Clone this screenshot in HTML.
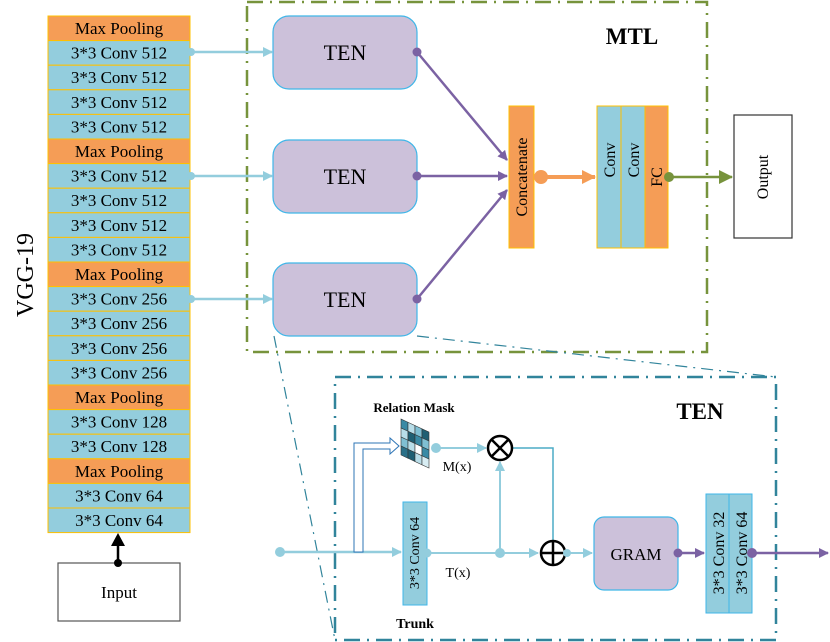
<!DOCTYPE html>
<html><head><meta charset="utf-8"><style>
html,body{margin:0;padding:0;background:#fff;}
svg{display:block;}
text{font-family:"Liberation Serif",serif;}
</style></head><body>
<svg width="830" height="642" viewBox="0 0 830 642" xmlns="http://www.w3.org/2000/svg">
<defs>
<marker id="ab" markerWidth="10" markerHeight="10" refX="9" refY="5" orient="auto" markerUnits="userSpaceOnUse"><path d="M0,0 L10,5 L0,10 z" fill="#93cddd"/></marker>
<marker id="ap" markerWidth="10" markerHeight="10" refX="9" refY="5" orient="auto" markerUnits="userSpaceOnUse"><path d="M0,0 L10,5 L0,10 z" fill="#7b62a3"/></marker>
<marker id="ao" markerWidth="14" markerHeight="14" refX="13" refY="7" orient="auto" markerUnits="userSpaceOnUse"><path d="M0,0 L14,7 L0,14 z" fill="#f59d56"/></marker>
<marker id="ag" markerWidth="14" markerHeight="14" refX="13" refY="7" orient="auto" markerUnits="userSpaceOnUse"><path d="M0,0 L14,7 L0,14 z" fill="#77933c"/></marker>
</defs>

<g font-size="17" text-anchor="middle">
<rect x="48" y="16" width="142" height="24.6" fill="#f59d56" stroke="#ffc000"/><text x="119" y="34">Max Pooling</text>
<rect x="48" y="40.6" width="142" height="24.6" fill="#93cddd" stroke="#ffc000"/><text x="119" y="58.6">3*3 Conv 512</text>
<rect x="48" y="65.2" width="142" height="24.6" fill="#93cddd" stroke="#ffc000"/><text x="119" y="83.2">3*3 Conv 512</text>
<rect x="48" y="89.8" width="142" height="24.6" fill="#93cddd" stroke="#ffc000"/><text x="119" y="107.8">3*3 Conv 512</text>
<rect x="48" y="114.4" width="142" height="24.6" fill="#93cddd" stroke="#ffc000"/><text x="119" y="132.4">3*3 Conv 512</text>
<rect x="48" y="139" width="142" height="24.6" fill="#f59d56" stroke="#ffc000"/><text x="119" y="157">Max Pooling</text>
<rect x="48" y="163.6" width="142" height="24.6" fill="#93cddd" stroke="#ffc000"/><text x="119" y="181.6">3*3 Conv 512</text>
<rect x="48" y="188.2" width="142" height="24.6" fill="#93cddd" stroke="#ffc000"/><text x="119" y="206.2">3*3 Conv 512</text>
<rect x="48" y="212.8" width="142" height="24.6" fill="#93cddd" stroke="#ffc000"/><text x="119" y="230.8">3*3 Conv 512</text>
<rect x="48" y="237.4" width="142" height="24.6" fill="#93cddd" stroke="#ffc000"/><text x="119" y="255.4">3*3 Conv 512</text>
<rect x="48" y="262" width="142" height="24.6" fill="#f59d56" stroke="#ffc000"/><text x="119" y="280">Max Pooling</text>
<rect x="48" y="286.6" width="142" height="24.6" fill="#93cddd" stroke="#ffc000"/><text x="119" y="304.6">3*3 Conv 256</text>
<rect x="48" y="311.2" width="142" height="24.6" fill="#93cddd" stroke="#ffc000"/><text x="119" y="329.2">3*3 Conv 256</text>
<rect x="48" y="335.8" width="142" height="24.6" fill="#93cddd" stroke="#ffc000"/><text x="119" y="353.8">3*3 Conv 256</text>
<rect x="48" y="360.4" width="142" height="24.6" fill="#93cddd" stroke="#ffc000"/><text x="119" y="378.4">3*3 Conv 256</text>
<rect x="48" y="385" width="142" height="24.6" fill="#f59d56" stroke="#ffc000"/><text x="119" y="403">Max Pooling</text>
<rect x="48" y="409.6" width="142" height="24.6" fill="#93cddd" stroke="#ffc000"/><text x="119" y="427.6">3*3 Conv 128</text>
<rect x="48" y="434.2" width="142" height="24.6" fill="#93cddd" stroke="#ffc000"/><text x="119" y="452.2">3*3 Conv 128</text>
<rect x="48" y="458.8" width="142" height="24.6" fill="#f59d56" stroke="#ffc000"/><text x="119" y="476.8">Max Pooling</text>
<rect x="48" y="483.4" width="142" height="24.6" fill="#93cddd" stroke="#ffc000"/><text x="119" y="501.4">3*3 Conv 64</text>
<rect x="48" y="508" width="142" height="24.6" fill="#93cddd" stroke="#ffc000"/><text x="119" y="526">3*3 Conv 64</text>
</g>
<text x="0" y="0" font-size="24" text-anchor="middle" transform="translate(33,275) rotate(-90)">VGG-19</text>

<rect x="58" y="563" width="122" height="58" fill="#fff" stroke="#555" stroke-width="1.2"/>
<text x="119" y="598" font-size="17" text-anchor="middle">Input</text>
<line x1="118" y1="563" x2="118" y2="544" stroke="#000" stroke-width="2.5"/>
<polygon points="118,533 111,546 125,546" fill="#000"/>
<circle cx="118" cy="563" r="4" fill="#000"/>

<rect x="247" y="2" width="460" height="350" fill="none" stroke="#77933c" stroke-width="2.5" stroke-dasharray="16,7,2,7"/>
<text x="632" y="44" font-size="23" font-weight="bold" text-anchor="middle">MTL</text>

<g stroke="#93cddd" stroke-width="2.5">
<line x1="190" y1="52" x2="272" y2="52" marker-end="url(#ab)"/>
<line x1="190" y1="176" x2="272" y2="176" marker-end="url(#ab)"/>
<line x1="190" y1="299" x2="272" y2="299" marker-end="url(#ab)"/>
</g>
<g fill="#93cddd"><circle cx="191" cy="52" r="4"/><circle cx="191" cy="176" r="4"/><circle cx="191" cy="299" r="4"/></g>

<g fill="#ccc1da" stroke="#3fb6e8" stroke-width="1.2">
<rect x="273" y="16" width="144" height="73" rx="16"/>
<rect x="273" y="140" width="144" height="73" rx="16"/>
<rect x="273" y="263" width="144" height="73" rx="16"/>
</g>
<g font-size="22" text-anchor="middle">
<text x="345" y="60">TEN</text><text x="345" y="184">TEN</text><text x="345" y="307">TEN</text>
</g>
<g stroke="#7b62a3" stroke-width="2.5">
<line x1="417" y1="52" x2="507" y2="160" marker-end="url(#ap)"/>
<line x1="417" y1="176" x2="507" y2="176" marker-end="url(#ap)"/>
<line x1="417" y1="299" x2="507" y2="190" marker-end="url(#ap)"/>
</g>
<g fill="#7b62a3"><circle cx="417" cy="52" r="4.5"/><circle cx="417" cy="176" r="4.5"/><circle cx="417" cy="299" r="4.5"/></g>

<rect x="509" y="106" width="25" height="142" fill="#f59d56" stroke="#ffc000"/>
<text font-size="16" text-anchor="middle" transform="translate(527,177) rotate(-90)">Concatenate</text>
<line x1="540" y1="177" x2="595" y2="177" stroke="#f59d56" stroke-width="4" marker-end="url(#ao)"/>
<circle cx="541" cy="177" r="7" fill="#f59d56"/>

<rect x="597" y="106" width="24" height="142" fill="#93cddd" stroke="#ffc000"/>
<rect x="621" y="106" width="24" height="142" fill="#93cddd" stroke="#ffc000"/>
<rect x="645" y="106" width="23" height="142" fill="#f59d56" stroke="#ffc000"/>
<text font-size="16" text-anchor="middle" transform="translate(615,160) rotate(-90)">Conv</text>
<text font-size="16" text-anchor="middle" transform="translate(639,160) rotate(-90)">Conv</text>
<text font-size="16" text-anchor="middle" transform="translate(662,177) rotate(-90)">FC</text>
<line x1="669" y1="177" x2="732" y2="177" stroke="#77933c" stroke-width="2.5" marker-end="url(#ag)"/>
<circle cx="669" cy="177" r="5" fill="#77933c"/>

<rect x="734" y="115" width="58" height="123" fill="#fff" stroke="#333" stroke-width="1.2"/>
<text font-size="16" text-anchor="middle" transform="translate(768,177) rotate(-90)">Output</text>

<g stroke="#31849b" stroke-width="1.2" stroke-dasharray="12,6,2,6" fill="none">
<line x1="274" y1="336" x2="335" y2="640"/>
<line x1="417" y1="336" x2="776" y2="377"/>
</g>

<rect x="335" y="377" width="441" height="263" fill="none" stroke="#31849b" stroke-width="2.5" stroke-dasharray="16,7,2,7"/>
<text x="700" y="419" font-size="23" font-weight="bold" text-anchor="middle">TEN</text>
<text x="414" y="412" font-size="13" font-weight="bold" text-anchor="middle">Relation Mask</text>

<g transform="translate(401,419) skewY(25)" stroke="#333" stroke-width="0.6">
<rect x="0" y="0" width="7" height="9" fill="#3a8aa5"/><rect x="7" y="0" width="7" height="9" fill="#b8dde8"/><rect x="14" y="0" width="7" height="9" fill="#7fbfd3"/><rect x="21" y="0" width="7" height="9" fill="#1f5f73"/>
<rect x="0" y="9" width="7" height="9" fill="#b8dde8"/><rect x="7" y="9" width="7" height="9" fill="#1f5f73"/><rect x="14" y="9" width="7" height="9" fill="#3a8aa5"/><rect x="21" y="9" width="7" height="9" fill="#7fbfd3"/>
<rect x="0" y="18" width="7" height="9" fill="#7fbfd3"/><rect x="7" y="18" width="7" height="9" fill="#b8dde8"/><rect x="14" y="18" width="7" height="9" fill="#fff"/><rect x="21" y="18" width="7" height="9" fill="#3a8aa5"/>
<rect x="0" y="27" width="7" height="9" fill="#2a7088"/><rect x="7" y="27" width="7" height="9" fill="#1f5f73"/><rect x="14" y="27" width="7" height="9" fill="#b8dde8"/><rect x="21" y="27" width="7" height="9" fill="#d8edf3"/>
</g>

<line x1="280" y1="552" x2="401" y2="552" stroke="#93cddd" stroke-width="2.5" marker-end="url(#ab)"/>
<circle cx="280" cy="552" r="5" fill="#93cddd"/>
<path d="M354,552 L354,443 L390,443 L390,438 L399,446 L390,454 L390,449 L363,449 L363,552 Z" fill="#fff" stroke="#2e75b6" stroke-width="1"/>

<rect x="403" y="502" width="24" height="103" fill="#93cddd" stroke="#3fb6e8"/>
<text font-size="14" text-anchor="middle" transform="translate(419,553) rotate(-90)">3*3 Conv 64</text>
<text x="415" y="628" font-size="14" font-weight="bold" text-anchor="middle">Trunk</text>

<line x1="436" y1="448" x2="486" y2="448" stroke="#93cddd" stroke-width="2" marker-end="url(#ab)"/>
<circle cx="436" cy="448" r="5" fill="#93cddd"/>
<text x="457" y="471" font-size="14" text-anchor="middle">M(x)</text>
<line x1="427" y1="553" x2="538" y2="553" stroke="#93cddd" stroke-width="2" marker-end="url(#ab)"/>
<circle cx="427" cy="553" r="4.5" fill="#93cddd"/>
<circle cx="500" cy="553" r="5" fill="#93cddd"/>
<line x1="500" y1="553" x2="500" y2="462" stroke="#93cddd" stroke-width="2" marker-end="url(#ab)"/>
<text x="458" y="577" font-size="14" text-anchor="middle">T(x)</text>
<polyline points="512,448 553,448 553,541" fill="none" stroke="#4bacc6" stroke-width="1.5"/>
<circle cx="500" cy="448" r="12" fill="#fff" stroke="#000" stroke-width="2.5"/>
<line x1="492" y1="440" x2="508" y2="456" stroke="#000" stroke-width="2.5"/>
<line x1="508" y1="440" x2="492" y2="456" stroke="#000" stroke-width="2.5"/>
<circle cx="553" cy="553" r="12" fill="#fff" stroke="#000" stroke-width="2.5"/>
<line x1="541" y1="553" x2="565" y2="553" stroke="#000" stroke-width="2.5"/>
<line x1="553" y1="541" x2="553" y2="565" stroke="#000" stroke-width="2.5"/>
<line x1="565" y1="553" x2="592" y2="553" stroke="#93cddd" stroke-width="2" marker-end="url(#ab)"/>
<circle cx="567" cy="553" r="4" fill="#93cddd"/>

<rect x="594" y="517" width="84" height="73" rx="10" fill="#ccc1da" stroke="#3fb6e8" stroke-width="1.2"/>
<text x="636" y="560" font-size="17" text-anchor="middle">GRAM</text>
<line x1="678" y1="553" x2="704" y2="553" stroke="#7b62a3" stroke-width="2.5" marker-end="url(#ap)"/>
<circle cx="678" cy="553" r="4.5" fill="#7b62a3"/>

<rect x="706" y="494" width="23" height="119" fill="#93cddd" stroke="#3fb6e8"/>
<rect x="729" y="494" width="23" height="119" fill="#93cddd" stroke="#3fb6e8"/>
<text font-size="16" text-anchor="middle" transform="translate(724,553) rotate(-90)">3*3 Conv 32</text>
<text font-size="16" text-anchor="middle" transform="translate(747,553) rotate(-90)">3*3 Conv 64</text>
<line x1="752" y1="553" x2="828" y2="553" stroke="#7b62a3" stroke-width="2.5" marker-end="url(#ap)"/>
<circle cx="752" cy="553" r="5" fill="#7b62a3"/>
</svg>
</body></html>
